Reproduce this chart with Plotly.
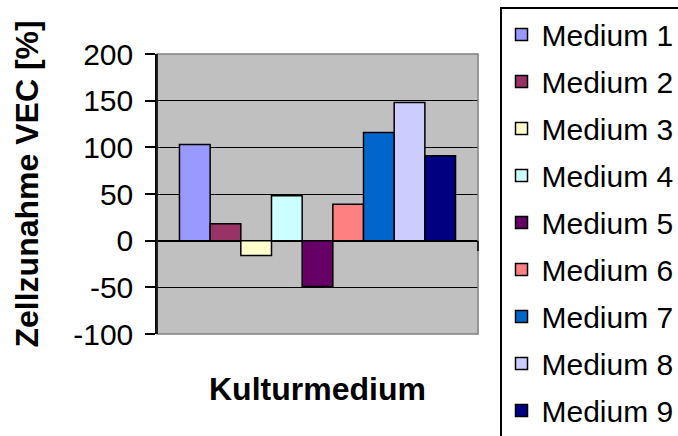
import plotly.graph_objects as go

# Cell growth per culture medium (%)
media = ["Medium 1", "Medium 2", "Medium 3", "Medium 4", "Medium 5",
         "Medium 6", "Medium 7", "Medium 8", "Medium 9"]
growth = [103, 18, -16, 48, -49, 39, 116, 148, 91]
colors = ["#9999FF", "#993366", "#FFFFCC", "#CCFFFF", "#660066",
          "#FF8080", "#0066CC", "#CCCCFF", "#000080"]
category = ["Kulturmedium"]
y_ticks = [-100, -50, 0, 50, 100, 150, 200]
y_labels = ["-100", "-50", "0", "50", "100", "150", "200"]

FONT = "Arial, Liberation Sans, sans-serif"

fig = go.Figure()
for name, val, col in zip(media, growth, colors):
    fig.add_trace(go.Bar(
        x=category, y=[val], name=name, legendgroup=name,
        marker=dict(color=col, line=dict(color="black", width=1.5)),
    ))

fig.update_layout(
    width=678, height=436,
    margin=dict(l=157, r=200, t=54, b=102, autoexpand=False),
    paper_bgcolor="white", plot_bgcolor="#C0C0C0",
    barmode="group", bargap=0.14, bargroupgap=0,
    font=dict(family=FONT, size=30, color="black"),
    showlegend=True,
    legend=dict(
        x=(500 - 157) / 321, y=(334 - 7) / 280, xanchor="left", yanchor="top",
        bgcolor="white", bordercolor="black", borderwidth=1.5,
        font=dict(family=FONT, size=30, color="black"),
        tracegroupgap=5, traceorder="grouped", maxheight=900,
    ),
    xaxis=dict(showticklabels=False, ticks="", showgrid=False,
               zeroline=False, showline=False),
    yaxis=dict(
        range=[-100, 200], tickvals=y_ticks, ticktext=y_labels,
        ticks="outside", ticklen=10, tickwidth=1.5, tickcolor="black",
        showline=True, linecolor="black", linewidth=1.5,
        showgrid=True, gridcolor="black", gridwidth=1.2,
        zeroline=True, zerolinecolor="black", zerolinewidth=1.5,
        tickfont=dict(family=FONT, size=30, color="black"),
        ticklabelstandoff=6,
    ),
    annotations=[
        dict(text="<b>Zellzunahme VEC [%]</b>", textangle=-90,
             xref="paper", yref="paper", x=(26 - 157) / 321, y=(334 - 350) / 280,
             xanchor="center", yanchor="bottom", showarrow=False,
             font=dict(family=FONT, size=32, color="black")),
        dict(text="<b>Kulturmedium</b>",
             xref="paper", yref="paper", x=0.5, y=(334 - 389) / 280,
             xanchor="center", yanchor="middle", showarrow=False,
             font=dict(family=FONT, size=32, color="black")),
    ],
    shapes=[
        # gray frame around the plotting area
        dict(type="rect", xref="paper", yref="paper", x0=0, x1=1, y0=0, y1=1,
             line=dict(color="#808080", width=1.5), layer="above"),
        # left value axis drawn over the frame
        dict(type="line", xref="paper", yref="paper", x0=0, x1=0, y0=0, y1=1,
             line=dict(color="black", width=1.5), layer="above"),
        # category tick at the right end of the horizontal axis
        dict(type="line", xref="paper", yref="y", x0=1, x1=1, y0=0, y1=-11,
             line=dict(color="black", width=1.5), layer="above"),
    ],
)

fig.write_html("out.html")
